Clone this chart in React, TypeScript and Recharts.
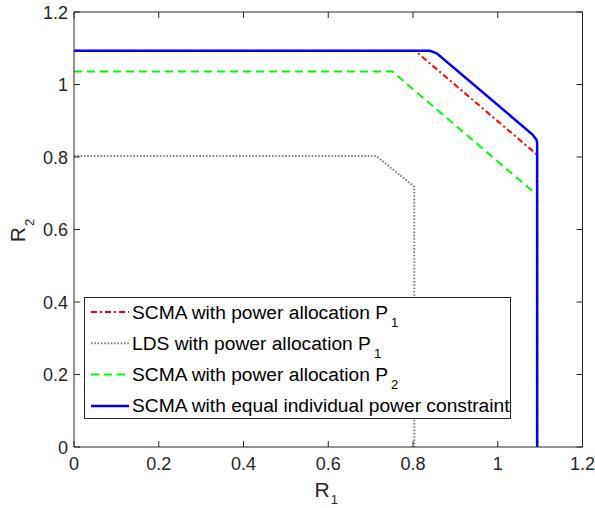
import React from 'react';
import { LineChart, Line, XAxis, YAxis, Legend, Label } from 'recharts';

const FONT = '"Liberation Sans", Arial, Helvetica, sans-serif';
const AX = '#262626';

const xTicks = [0, 0.2, 0.4, 0.6, 0.8, 1, 1.2];
const yTicks = [0, 0.2, 0.4, 0.6, 0.8, 1, 1.2];

// SCMA with power allocation P1
const scmaP1 = [
  { x: 0, y: 1.093 },
  { x: 0.805, y: 1.093 },
  { x: 1.091, y: 0.808 },
  { x: 1.093, y: 0.805 },
  { x: 1.093, y: 0 },
];
// LDS with power allocation P1
const ldsP1 = [
  { x: 0, y: 0.803 },
  { x: 0.713, y: 0.803 },
  { x: 0.803, y: 0.718 },
  { x: 0.803, y: 0 },
];
// SCMA with power allocation P2
const scmaP2 = [
  { x: 0, y: 1.036 },
  { x: 0.751, y: 1.036 },
  { x: 1.091, y: 0.697 },
  { x: 1.093, y: 0.694 },
  { x: 1.093, y: 0 },
];
// SCMA with equal individual power constraint
const scmaEqual = [
  { x: 0, y: 1.093 },
  { x: 0.84, y: 1.093 },
  { x: 0.856, y: 1.086 },
  { x: 1.082, y: 0.862 },
  { x: 1.092, y: 0.846 },
  { x: 1.093, y: 0.838 },
  { x: 1.093, y: 0 },
];

const seriesInfo = [
  { name: 'SCMA with power allocation P', sub: '1', color: '#ff0000', dash: '6 3 2 3', width: 2 },
  { name: 'LDS with power allocation P', sub: '1', color: '#808080', dash: '1.6 1.7', width: 2 },
  { name: 'SCMA with power allocation P', sub: '2', color: '#00ff00', dash: '8 5', width: 2 },
  { name: 'SCMA with equal individual power constraint', sub: '', color: '#0000ff', dash: undefined as string | undefined, width: 2.5 },
];

const fmt = (v: number) => String(Math.round(v * 10) / 10);

const BottomTick = (props: any) => {
  const { x, y, payload } = props;
  return (
    <g>
      <line x1={x} y1={y} x2={x} y2={y - 6} stroke={AX} strokeWidth={1} />
      <text x={x} y={y + 23} textAnchor="middle" fill={AX} fontSize={18} fontFamily={FONT}>
        {fmt(payload.value)}
      </text>
    </g>
  );
};
const LeftTick = (props: any) => {
  const { x, y, payload } = props;
  return (
    <g>
      <line x1={x} y1={y} x2={x + 6} y2={y} stroke={AX} strokeWidth={1} />
      <text x={x - 6} y={y + 6.5} textAnchor="end" fill={AX} fontSize={18} fontFamily={FONT}>
        {fmt(payload.value)}
      </text>
    </g>
  );
};
const TopTick = (props: any) => {
  const { x, y } = props;
  return <line x1={x} y1={y} x2={x} y2={y + 6} stroke={AX} strokeWidth={1} />;
};
const RightTick = (props: any) => {
  const { x, y } = props;
  return <line x1={x} y1={y} x2={x - 6} y2={y} stroke={AX} strokeWidth={1} />;
};

const XLabel = (props: any) => {
  const vb = props.viewBox || {};
  const cx = vb.x + vb.width / 2 - 2;
  return (
    <text x={cx} y={vb.y + 50} textAnchor="middle" fill={AX} fontSize={21} fontFamily={FONT}>
      R<tspan fontSize={13} dx={1} dy={7}>1</tspan>
    </text>
  );
};
const YLabel = (props: any) => {
  const vb = props.viewBox || {};
  const cx = vb.x + vb.width - 49;
  const cy = vb.y + vb.height / 2 + 1;
  return (
    <text transform={`translate(${cx},${cy}) rotate(-90)`} textAnchor="middle" fill={AX} fontSize={21} fontFamily={FONT}>
      R<tspan fontSize={13} dx={1} dy={9}>2</tspan>
    </text>
  );
};

const LegendBox = () => (
  <div
    style={{
      width: 427,
      height: 122,
      boxSizing: 'border-box',
      border: `1px solid ${AX}`,
      background: '#fff',
    }}
  >
    <svg width={425} height={120} style={{ display: 'block' }}>
      {seriesInfo.map((s, i) => {
        const cy = 14 + i * 31.3;
        return (
          <g key={i}>
            <line x1={6} y1={cy} x2={44} y2={cy} stroke={s.color} strokeWidth={s.width} strokeDasharray={s.dash} />
            <text x={47} y={cy + 6.5} fill="#000" fontSize={19.2} fontFamily={FONT}>
              {s.name}
              {s.sub ? (
                <tspan fontSize={13} dx={3} dy={8}>
                  {s.sub}
                </tspan>
              ) : null}
            </text>
          </g>
        );
      })}
    </svg>
  </div>
);

export default function App() {
  const seriesData = [scmaP1, ldsP1, scmaP2, scmaEqual];
  return (
    <div style={{ position: 'absolute', left: 0, top: 0, background: '#fff' }}>
      <LineChart width={595} height={508} margin={{ top: 11, right: 11.5, bottom: 21, left: 24 }}>
        <XAxis
          xAxisId="b"
          dataKey="x"
          type="number"
          domain={[0, 1.2]}
          ticks={xTicks}
          interval={0}
          allowDataOverflow
          height={40}
          tickSize={0}
          tickMargin={0}
          tickLine={false}
          tick={<BottomTick />}
          axisLine={{ stroke: AX, strokeWidth: 1 }}
        >
          <Label content={<XLabel />} />
        </XAxis>
        <XAxis
          xAxisId="t"
          orientation="top"
          dataKey="x"
          type="number"
          domain={[0, 1.2]}
          ticks={xTicks}
          interval={0}
          allowDataOverflow
          height={1}
          tickSize={0}
          tickMargin={0}
          tickLine={false}
          tick={<TopTick />}
          axisLine={{ stroke: AX, strokeWidth: 1 }}
        />
        <YAxis
          yAxisId="l"
          dataKey="y"
          type="number"
          domain={[0, 1.2]}
          ticks={yTicks}
          interval={0}
          allowDataOverflow
          width={50}
          tickSize={0}
          tickMargin={0}
          tickLine={false}
          tick={<LeftTick />}
          axisLine={{ stroke: AX, strokeWidth: 1 }}
        >
          <Label content={<YLabel />} />
        </YAxis>
        <YAxis
          yAxisId="r"
          orientation="right"
          dataKey="y"
          type="number"
          domain={[0, 1.2]}
          ticks={yTicks}
          interval={0}
          allowDataOverflow
          width={1}
          tickSize={0}
          tickMargin={0}
          tickLine={false}
          tick={<RightTick />}
          axisLine={{ stroke: AX, strokeWidth: 1 }}
        />
        {seriesInfo.map((s, i) => (
          <Line
            key={i}
            xAxisId="b"
            yAxisId="l"
            data={seriesData[i]}
            dataKey="y"
            name={s.name + s.sub}
            type="linear"
            stroke={s.color}
            strokeWidth={s.width}
            strokeDasharray={s.dash}
            dot={false}
            activeDot={false}
            isAnimationActive={false}
          />
        ))}
        <Legend
          layout="vertical"
          align="center"
          verticalAlign="middle"
          content={<LegendBox />}
          wrapperStyle={{ left: 84, top: 297, width: 427, height: 122 }}
        />
      </LineChart>
    </div>
  );
}
